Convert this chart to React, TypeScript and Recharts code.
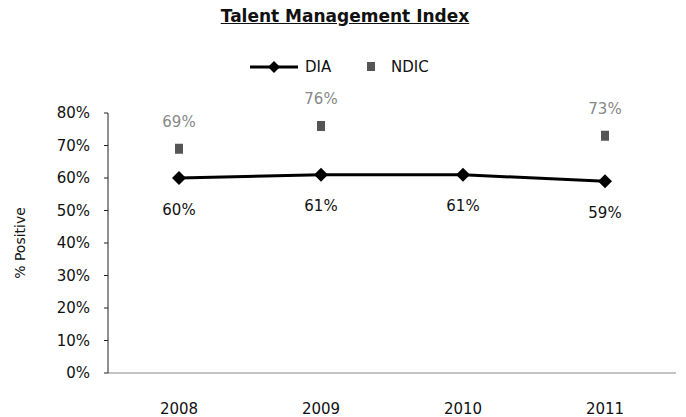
import { ComposedChart, Line, XAxis, YAxis, LabelList } from "recharts";

const years = ["2008", "2009", "2010", "2011"];
const dia = [0.6, 0.61, 0.61, 0.59];
const ndic = [0.69, 0.76, null, 0.73];
const yTicks = [0, 0.1, 0.2, 0.3, 0.4, 0.5, 0.6, 0.7, 0.8];

const data = years.map((year, i) => ({ year, DIA: dia[i], NDIC: ndic[i] }));

const FONT = "'DejaVu Sans', 'Noto Sans', sans-serif";
const pct = (v: any) => (v == null ? "" : `${Math.round(v * 100)}%`);

const Diamond = (props: any) => {
  const { cx, cy } = props;
  if (cx == null || cy == null) return null;
  return (
    <path
      d={`M${cx},${cy - 7} L${cx + 7},${cy} L${cx},${cy + 7} L${cx - 7},${cy} Z`}
      fill="#000"
    />
  );
};

const Square = (props: any) => {
  const { cx, cy, value } = props;
  if (cx == null || cy == null || value == null) return null;
  return <rect x={cx - 4} y={cy - 5} width={8} height={10} fill="#555" />;
};

export default function App() {
  return (
    <div
      style={{
        position: "absolute",
        left: 0,
        top: 0,
        width: 686,
        height: 417,
        background: "#fff",
        fontFamily: FONT,
      }}
    >
      {/* title */}
      <div
        style={{
          position: "absolute",
          top: 6,
          left: 195,
          width: 300,
          textAlign: "center",
          fontSize: 17,
          fontWeight: 700,
          textDecoration: "underline",
          color: "#111",
          whiteSpace: "nowrap",
        }}
      >
        Talent Management Index
      </div>

      {/* legend */}
      <svg
        style={{ position: "absolute", left: 0, top: 0 }}
        width={686}
        height={90}
      >
        <line x1={250} y1={67} x2={298} y2={67} stroke="#000" strokeWidth={3} />
        <path d="M274,61 L280,67 L274,73 L268,67 Z" fill="#000" />
        <text x={305} y={72} fontSize={15} fontFamily={FONT} fill="#111">
          DIA
        </text>
        <rect x={367} y={62} width={8} height={9} fill="#555" />
        <text x={391} y={72} fontSize={15} fontFamily={FONT} fill="#111">
          NDIC
        </text>
      </svg>

      <ComposedChart
        width={686}
        height={417}
        data={data}
        margin={{ top: 113, right: 10, bottom: 4, left: 0 }}
        style={{ position: "absolute", left: 0, top: 0 }}
      >
        <XAxis
          dataKey="year"
          height={40}
          padding={{ left: 71, right: 71 }}
          axisLine={{ stroke: "#888" }}
          tickLine={false}
          tick={{ fontSize: 15, fill: "#111", fontFamily: FONT }}
          tickMargin={24}
        />
        <YAxis
          width={108}
          domain={[0, 0.8]}
          ticks={yTicks}
          tickFormatter={pct}
          axisLine={{ stroke: "#222" }}
          tickLine={{ stroke: "#222" }}
          tickSize={4}
          tickMargin={14}
          tick={{ fontSize: 15, fill: "#111", fontFamily: FONT }}
          label={{
            value: "% Positive",
            angle: -90,
            position: "insideLeft",
            offset: 20,
            style: { fontSize: 14, fill: "#111", fontFamily: FONT, textAnchor: "middle" },
          }}
        />
        <Line
          dataKey="DIA"
          stroke="#000"
          strokeWidth={3}
          dot={<Diamond />}
          activeDot={false}
          isAnimationActive={false}
        >
          <LabelList
            dataKey="DIA"
            position="bottom"
            offset={26}
            formatter={pct}
            style={{ fontSize: 15, fill: "#111", fontFamily: FONT }}
          />
        </Line>
        <Line
          dataKey="NDIC"
          stroke="none"
          dot={<Square />}
          activeDot={false}
          connectNulls={false}
          isAnimationActive={false}
        >
          <LabelList
            dataKey="NDIC"
            position="top"
            offset={22}
            formatter={pct}
            style={{ fontSize: 15, fill: "#888", fontFamily: FONT }}
          />
        </Line>
      </ComposedChart>
    </div>
  );
}
